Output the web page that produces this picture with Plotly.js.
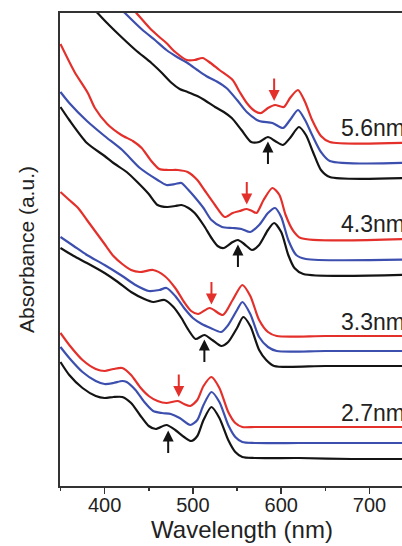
<!DOCTYPE html>
<html><head><meta charset="utf-8">
<script src="https://cdn.plot.ly/plotly-3.0.1.min.js"></script>
<style>html,body{margin:0;padding:0;overflow:hidden;background:#fff}
#wrap{width:402px;height:546px;overflow:hidden;position:relative}</style>
</head><body><div id="wrap"><div id="chart" style="width:424px;height:546px"></div></div>
<script>
// ---- data (absorbance, arbitrary units, vertically offset spectra) ----
const sizeLabels = ['2.7nm', '3.3nm', '4.3nm', '5.6nm'];
const xTickVals = [400, 500, 600, 700];
const xTickText = ['400', '500', '600', '700'];

// 2.7 nm
const wl27Black = [350,360,375,390,400,410,420,430,440,450,458,470,480,490,498,505,512,521,530,540,548,556,570,620,680,770];
const abs27Black = [1.24,1.11,0.98,0.90,0.88,0.89,0.89,0.83,0.71,0.60,0.57,0.61,0.56,0.49,0.45,0.50,0.66,0.79,0.68,0.46,0.34,0.29,0.28,0.28,0.27,0.27];
const wl27Blue = [350,360,375,390,400,410,420,425,435,445,455,465,475,485,497,505,512,521,530,540,548,556,570,620,680,770];
const abs27Blue = [1.39,1.28,1.14,1.05,1.02,1.03,1.05,1.04,0.96,0.84,0.75,0.73,0.72,0.68,0.61,0.66,0.81,0.94,0.84,0.61,0.49,0.44,0.43,0.43,0.43,0.43];
const wl27Red = [350,360,375,390,400,410,420,430,440,450,460,470,483,490,497,505,512,521,530,540,548,556,570,620,680,770];
const abs27Red = [1.53,1.41,1.26,1.17,1.15,1.17,1.18,1.11,0.99,0.90,0.85,0.83,0.85,0.82,0.80,0.86,1.00,1.09,0.98,0.74,0.63,0.59,0.59,0.59,0.59,0.59];

// 3.3 nm
const wl33Black = [350,365,380,400,415,430,445,455,468,478,487,495,503,513,522,532,540,550,557,565,575,583,592,650,770];
const abs33Black = [2.38,2.30,2.23,2.13,2.04,1.94,1.87,1.84,1.86,1.79,1.68,1.56,1.47,1.51,1.46,1.40,1.44,1.58,1.69,1.60,1.36,1.26,1.20,1.20,1.20];
const wl33Blue = [350,365,380,400,420,435,450,462,470,480,490,500,510,520,532,540,550,556,565,575,585,595,650,770];
const abs33Blue = [2.49,2.40,2.31,2.21,2.10,2.01,1.95,1.96,1.98,1.90,1.78,1.68,1.62,1.58,1.54,1.61,1.76,1.84,1.72,1.49,1.39,1.35,1.35,1.35];
const wl33Red = [350,360,370,380,390,400,410,420,430,440,455,468,480,490,498,506,519,534,545,556,565,575,585,595,650,770];
const abs33Red = [2.94,2.86,2.78,2.66,2.54,2.42,2.30,2.22,2.16,2.14,2.16,2.10,1.98,1.84,1.75,1.72,1.78,1.71,1.86,2.01,1.90,1.66,1.54,1.50,1.50,1.50];

// 4.3 nm
const wl43Black = [350,360,380,400,410,425,437,450,460,471,480,487,495,502,512,521,528,535,545,551,558,567,575,585,592,600,608,615,625,770];
const abs43Black = [3.79,3.66,3.43,3.30,3.23,3.14,3.04,2.92,2.81,2.79,2.80,2.81,2.78,2.73,2.61,2.48,2.40,2.38,2.44,2.46,2.42,2.36,2.41,2.56,2.63,2.54,2.31,2.18,2.12,2.12];
const wl43Blue = [350,360,380,400,420,440,460,470,480,487,495,502,512,521,533,545,555,565,575,585,593,600,608,617,628,770];
const abs43Blue = [3.94,3.83,3.65,3.50,3.36,3.18,3.06,3.01,3.02,3.03,2.96,2.89,2.78,2.66,2.59,2.58,2.57,2.54,2.61,2.73,2.78,2.69,2.46,2.31,2.27,2.27];
const wl43Red = [350,366,381,389,403,419,432,442,452,462,472,483,494,505,513,525,536,545,553,561,567,572,580,590,598,605,613,622,770];
const abs43Red = [4.42,4.14,3.93,3.78,3.62,3.51,3.45,3.38,3.26,3.17,3.16,3.16,3.14,3.06,2.96,2.81,2.69,2.73,2.75,2.77,2.75,2.73,2.86,2.98,2.91,2.71,2.56,2.48,2.48];

// 5.6 nm
const wl56Black = [380,392,405,419,435,453,465,476,485,494,505,513,525,535,544,555,566,575,585,593,602,610,620,628,636,645,655,770];
const abs56Black = [4.84,4.73,4.61,4.49,4.36,4.23,4.13,4.03,3.97,3.94,3.90,3.86,3.79,3.74,3.68,3.56,3.44,3.44,3.49,3.45,3.41,3.48,3.59,3.51,3.34,3.16,3.09,3.09];
const wl56Blue = [412,423,443,457,470,482,494,505,515,528,538,550,561,575,590,602,610,619,627,635,645,655,770];
const abs56Blue = [4.83,4.73,4.56,4.46,4.36,4.29,4.23,4.16,4.10,4.04,3.98,3.86,3.74,3.65,3.63,3.58,3.66,3.76,3.66,3.51,3.34,3.25,3.24];
const wl56Red = [426,436,451,462,470,480,493,502,511,520,530,545,553,561,570,577,585,593,603,610,619,627,635,645,655,770];
const abs56Red = [4.83,4.73,4.58,4.49,4.43,4.34,4.26,4.26,4.28,4.23,4.16,4.06,3.94,3.83,3.75,3.73,3.78,3.81,3.79,3.88,3.96,3.84,3.66,3.50,3.44,3.44];

// arrow wavelengths (red: down arrows, black: up arrows)
const redArrowWl = [484, 521, 561, 592];
const blackArrowWl = [472, 513, 551, 585];

// ---- build ----
const RED = '#e3302b', BLUE = '#3d4fae', BLACK = '#141414';
const groups = [
  {label: sizeLabels[0], black: [wl27Black, abs27Black], blue: [wl27Blue, abs27Blue], red: [wl27Red, abs27Red]},
  {label: sizeLabels[1], black: [wl33Black, abs33Black], blue: [wl33Blue, abs33Blue], red: [wl33Red, abs33Red]},
  {label: sizeLabels[2], black: [wl43Black, abs43Black], blue: [wl43Blue, abs43Blue], red: [wl43Red, abs43Red]},
  {label: sizeLabels[3], black: [wl56Black, abs56Black], blue: [wl56Blue, abs56Blue], red: [wl56Red, abs56Red]}
];

function interp(xs, ys, x) {
  for (let i = 0; i < xs.length - 1; i++) {
    if (x >= xs[i] && x <= xs[i + 1]) {
      const t = (x - xs[i]) / (xs[i + 1] - xs[i]);
      return ys[i] + t * (ys[i + 1] - ys[i]);
    }
  }
  return ys[ys.length - 1];
}

const traces = [];
const annotations = [];
groups.forEach((g, i) => {
  [['black', BLACK], ['blue', BLUE], ['red', RED]].forEach(([k, c]) => {
    traces.push({
      type: 'scatter', mode: 'lines', x: g[k][0], y: g[k][1],
      line: {color: c, width: 2.2, shape: 'spline', smoothing: 0.7},
      hoverinfo: 'skip', showlegend: false, name: g.label + ' ' + k
    });
  });
  const redFlat = g.red[1][g.red[1].length - 1];
  annotations.push({
    x: 666, y: redFlat + 0.14, xref: 'x', yref: 'y', text: g.label,
    showarrow: false, xanchor: 'left', yanchor: 'middle',
    font: {size: 23, color: '#222'}
  });
  annotations.push({
    x: redArrowWl[i], y: interp(g.red[0], g.red[1], redArrowWl[i]) + 0.045,
    xref: 'x', yref: 'y', ax: 0, ay: -24, text: '', showarrow: true,
    arrowhead: 2, arrowsize: 1.1, arrowwidth: 2, arrowcolor: RED, standoff: 0
  });
  annotations.push({
    x: blackArrowWl[i], y: interp(g.black[0], g.black[1], blackArrowWl[i]) - 0.045,
    xref: 'x', yref: 'y', ax: 0, ay: 24, text: '', showarrow: true,
    arrowhead: 2, arrowsize: 1.1, arrowwidth: 2, arrowcolor: BLACK, standoff: 0
  });
});

const layout = {
  width: 424, height: 546,
  margin: {l: 60, r: 0, t: 13, b: 60},
  paper_bgcolor: '#fff', plot_bgcolor: '#fff',
  font: {family: 'Liberation Sans, Arial, sans-serif', color: '#222'},
  showlegend: false,
  xaxis: {
    range: [349.5, 761.7], tickvals: xTickVals, ticktext: xTickText,
    ticks: 'outside', ticklen: 6, tickwidth: 1.5, tickcolor: '#333',
    ticklabelstandoff: -6,
    minor: {ticks: 'outside', ticklen: 3, tickwidth: 1.5, tickcolor: '#333', dtick: 50, tick0: 350},
    showline: true, linecolor: '#333', linewidth: 2, mirror: true,
    showgrid: false, zeroline: false,
    tickfont: {size: 20, color: '#222'},
    title: {text: 'Wavelength (nm)', font: {size: 24, color: '#222'}, standoff: 6}
  },
  yaxis: {
    range: [0, 4.73], showline: true, linecolor: '#333', linewidth: 2,
    ticks: '', showticklabels: false, showgrid: false, zeroline: false,
    title: {text: 'Absorbance (a.u.)', font: {size: 21, color: '#222'}, standoff: 18}
  },
  annotations: annotations
};

Plotly.newPlot('chart', traces, layout, {staticPlot: true, displayModeBar: false});
</script></body></html>
